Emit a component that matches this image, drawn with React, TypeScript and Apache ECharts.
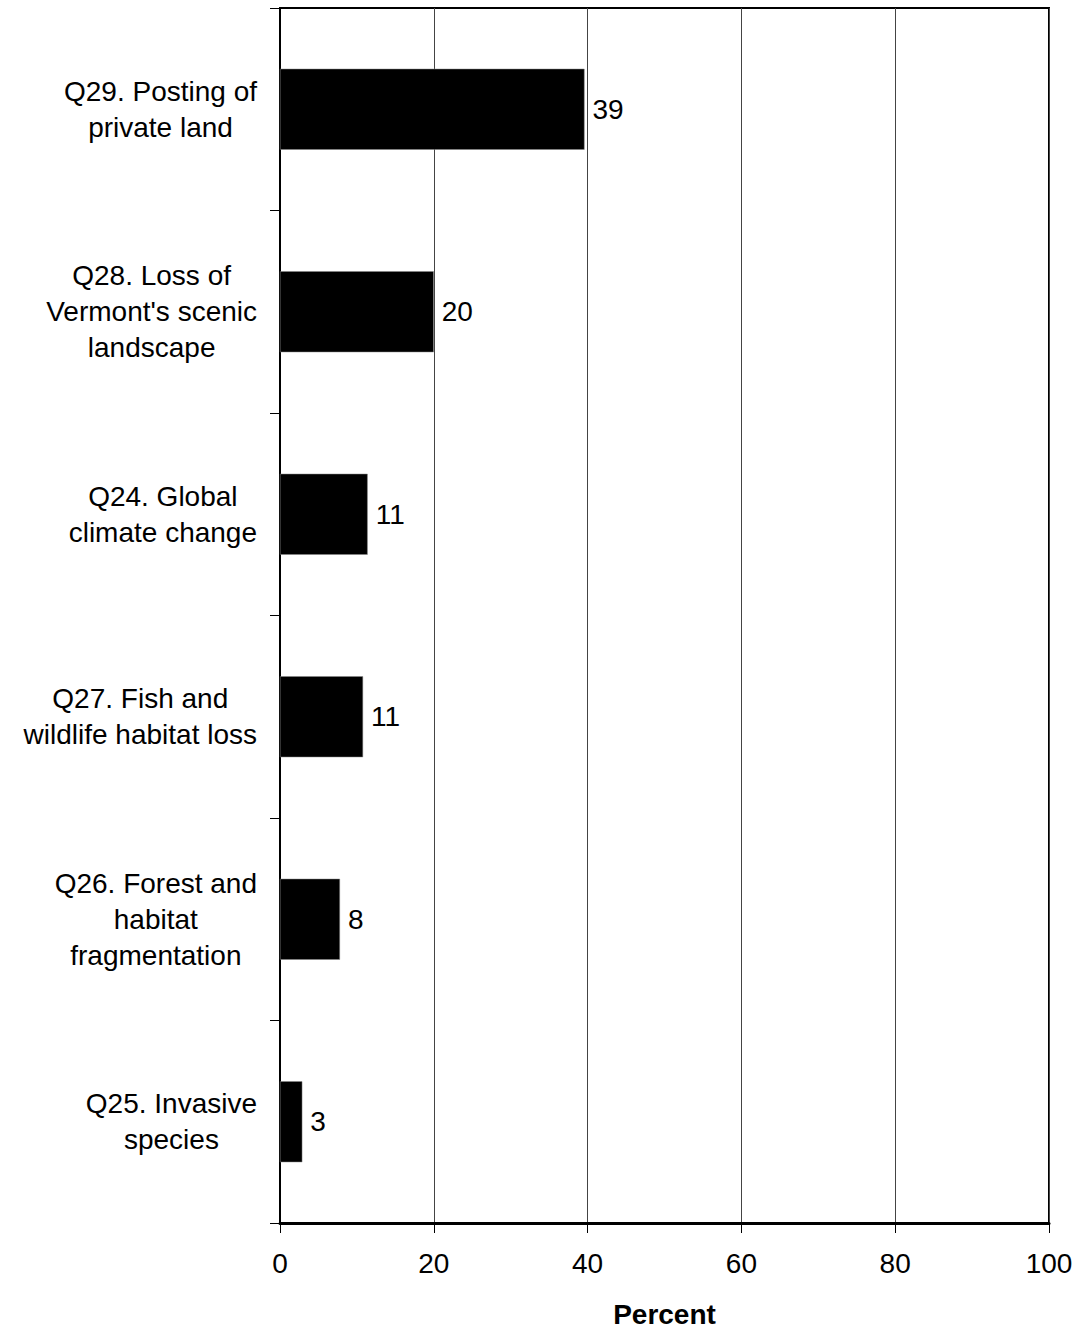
import React, { useEffect, useRef } from "react";
import * as echarts from "echarts";

const categories: string[][] = [
  ["Q29. Posting of", "private land"],
  ["Q28. Loss of", "Vermont's scenic", "landscape"],
  ["Q24. Global", "climate change"],
  ["Q27. Fish and", "wildlife habitat loss"],
  ["Q26. Forest and", "habitat", "fragmentation"],
  ["Q25. Invasive", "species"],
];
const values: number[] = [39.6, 20.0, 11.4, 10.8, 7.8, 2.9];
const valueLabels: string[] = ["39", "20", "11", "11", "8", "3"];
const xTicks = { min: 0, max: 100, interval: 20 };
const xTitle = "Percent";

const FONT = "Liberation Sans, Arial, Helvetica, sans-serif";
const FS = 28;

export default function App() {
  const ref = useRef<HTMLDivElement>(null);
  useEffect(() => {
    if (!ref.current) return;
    const chart = echarts.init(ref.current, null, { renderer: "svg" });
    chart.setOption({
      animation: false,
      backgroundColor: "#ffffff",
      grid: {
        left: 280,
        right: 29,
        top: 8,
        bottom: 106,
        containLabel: false,
        outerBoundsMode: "none",
        show: true,
        borderColor: "#000",
        borderWidth: 2,
        backgroundColor: "transparent",
      },
      xAxis: {
        type: "value",
        min: xTicks.min,
        max: xTicks.max,
        interval: xTicks.interval,
        name: xTitle,
        nameLocation: "middle",
        nameGap: 77,
        nameTextStyle: { fontFamily: FONT, fontSize: FS, fontWeight: "bold", color: "#000" },
        axisLine: { show: true, lineStyle: { color: "#000", width: 3 } },
        axisTick: { show: true, inside: false, length: 10, lineStyle: { color: "#000", width: 1 } },
        axisLabel: { fontFamily: FONT, fontSize: FS, color: "#000", margin: 26 },
        splitLine: { show: true, lineStyle: { color: "#444", width: 1 } },
      },
      yAxis: {
        type: "category",
        inverse: true,
        data: categories.map((c) => c.join("\n")),
        axisLine: { show: true, lineStyle: { color: "#000", width: 2 } },
        axisTick: { show: true, inside: false, length: 10, alignWithLabel: false, lineStyle: { color: "#000", width: 1 } },
        axisLabel: {
          margin: 23,
          fontFamily: FONT,
          fontSize: FS,
          color: "#000",
          lineHeight: 36,
          align: "right",
          formatter: (v: string) =>
            v
              .split("\n")
              .map((l) => "{c|" + l + "}")
              .join("\n"),
          rich: { c: { align: "center", fontFamily: FONT, fontSize: FS, lineHeight: 36, color: "#000" } },
        },
        splitLine: { show: false },
      },
      series: [
        {
          type: "bar",
          data: values,
          barWidth: "40%",
          itemStyle: { color: "#000", borderColor: "#888", borderWidth: 0.5 },
          label: {
            show: true,
            position: "right",
            distance: 8,
            fontFamily: FONT,
            fontSize: FS,
            color: "#000",
            formatter: (p: any) => valueLabels[p.dataIndex],
          },
        },
      ],
    });
    return () => chart.dispose();
  }, []);
  return (
    <div
      ref={ref}
      style={{ position: "absolute", left: 0, top: 0, width: 1078, height: 1329 }}
    />
  );
}
